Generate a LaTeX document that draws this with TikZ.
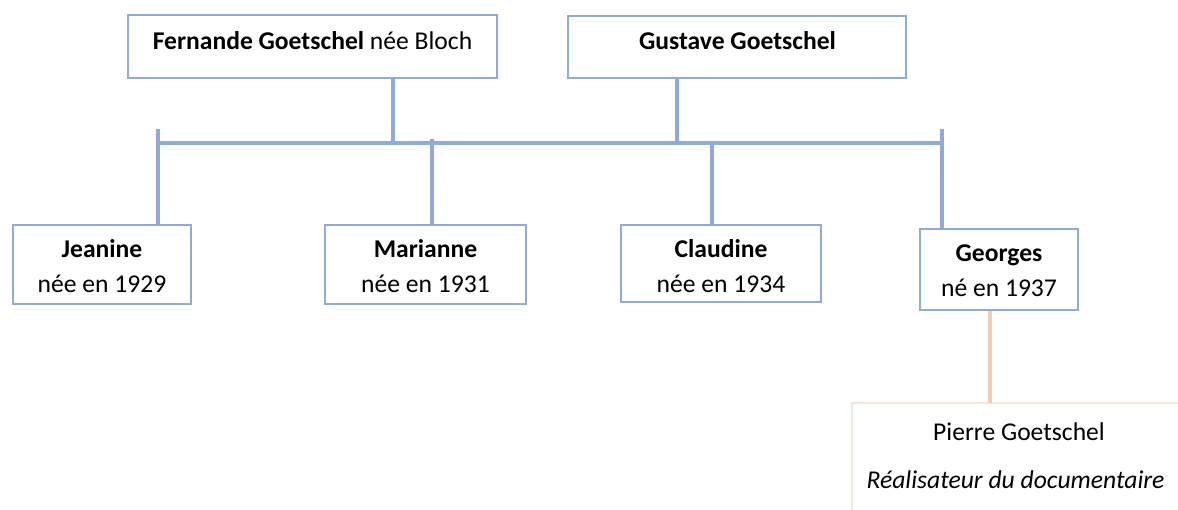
\documentclass[tikz,border=0pt]{standalone}
\usepackage{fontspec}
\setmainfont{Carlito}
\definecolor{lineblue}{HTML}{8FAADC}
\definecolor{lineorange}{HTML}{F8CBAD}
\definecolor{boxorange}{HTML}{FBE5D6}
\tikzset{
  person/.style={draw=lineblue, line width=2.5pt, fill=white, inner sep=0pt},
  link/.style={draw=lineblue, line width=4.5pt},
  olink/.style={draw=lineorange, line width=4pt},
  txt/.style={anchor=base, inner sep=0pt, font=\fontsize{25.6}{30}\selectfont},
}
\begin{document}
\begin{tikzpicture}[x=1pt,y=-1pt]
\useasboundingbox (0,0) rectangle (1178,510);
\clip (0,0) rectangle (1178,510);
% boxes
\node[person, minimum width=369pt, minimum height=63pt] (fernande) at (312.5,46.5) {};
\node[person, minimum width=338pt, minimum height=62pt] (gustave) at (737,47) {};
\node[person, minimum width=178pt, minimum height=79pt] (jeanine) at (102,264.5) {};
\node[person, minimum width=201pt, minimum height=79pt] (marianne) at (425.5,264.5) {};
\node[person, minimum width=200pt, minimum height=77pt] (claudine) at (721,263.5) {};
\node[person, minimum width=158pt, minimum height=81pt] (georges) at (999,269.5) {};
\node[draw=boxorange, line width=2.5pt, fill=white, inner sep=0pt, minimum width=360pt, minimum height=160pt] (pierre) at (1032,483) {};
% junction coordinates
\coordinate (bl) at (158,143);
\coordinate (br) at (942,143);
\coordinate (tj) at (158,129);
\coordinate (tm) at (432,139);
\coordinate (tc) at (712,143);
\coordinate (tg) at (942,129);
% connectors
\draw[link] (bl) -- (br);
\draw[link] (fernande.south -| 393,0) -- (393,143);
\draw[link] (gustave.south -| 677,0) -- (677,143);
\draw[link] (tj) -- (tj |- jeanine.north);
\draw[link] (tm) -- (tm |- marianne.north);
\draw[link] (tc) -- (tc |- claudine.north);
\draw[link] (tg) -- (tg |- georges.north);
\draw[olink] (georges.south -| 990,0) -- (990,403);
% texts
\node[txt] (tfern) at (312.5,50) {\textbf{Fernande Goetschel} née Bloch};
\node[txt] (tgust) at (737.5,50) {\textbf{Gustave Goetschel}};
\node[txt] (tjea1) at (102,258) {\textbf{Jeanine}};
\node[txt] (tjea2) at (102,293) {née en 1929};
\node[txt] (tmar1) at (425.5,258) {\textbf{Marianne}};
\node[txt] (tmar2) at (425.5,293) {née en 1931};
\node[txt] (tcla1) at (721,258) {\textbf{Claudine}};
\node[txt] (tcla2) at (721,293) {née en 1934};
\node[txt] (tgeo1) at (999,262) {\textbf{Georges}};
\node[txt] (tgeo2) at (999,297) {né en 1937};
\node[txt] (tpie1) at (1019,440) {Pierre Goetschel};
\node[txt] (tpie2) at (1015.5,488) {\textit{Réalisateur du documentaire}};
\end{tikzpicture}
\end{document}
